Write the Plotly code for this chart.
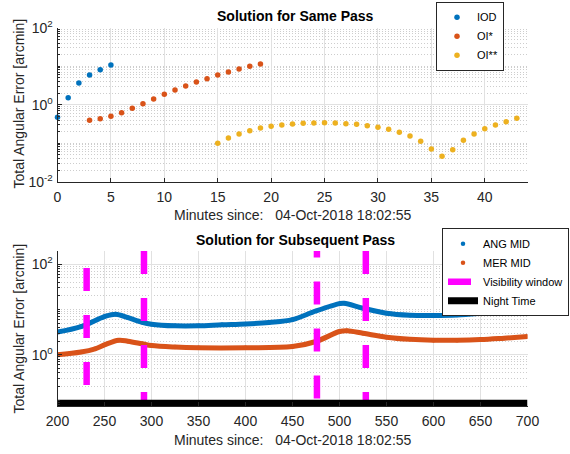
import plotly.graph_objects as go

# ---------------- data ----------------
iod_t = [0, 1, 2, 3, 4, 5]
iod_err = [0.47, 1.52, 3.66, 5.9, 8.1, 10.7]

oi1_t = list(range(3, 20))
oi1_err = [0.394, 0.433, 0.50, 0.62, 0.805, 1.06, 1.41, 1.86, 2.41, 3.06,
           3.89, 4.73, 5.9, 7.06, 8.45, 9.9, 11.4]

oi2_t = list(range(15, 44))
oi2_err = [0.099, 0.136, 0.173, 0.211, 0.248, 0.275, 0.297, 0.315, 0.329, 0.335,
           0.340, 0.335, 0.321, 0.31, 0.285, 0.259, 0.23, 0.192, 0.154, 0.112,
           0.0706, 0.0457, 0.0678, 0.119, 0.173, 0.238, 0.297, 0.361, 0.444]

ang_t = [200, 225, 250, 262, 275, 290, 300, 325, 350, 375, 400, 425, 450,
         475, 500, 505, 525, 550, 575, 600, 625, 650, 675, 700]
ang_err = [3.2, 4.2, 7.0, 7.9, 6.6, 5.25, 4.75, 4.36, 4.36, 4.6, 4.8, 5.2, 6.0,
           9.3, 13.5, 13.8, 10.7, 8.3, 7.5, 7.4, 7.6, 8.3, 9.3, 11.0]

mer_t = [200, 225, 240, 250, 265, 275, 290, 300, 325, 350, 400, 450, 475,
         500, 508, 525, 550, 575, 600, 625, 650, 675, 700]
mer_err = [1.0, 1.15, 1.36, 1.66, 2.1, 2.0, 1.75, 1.6, 1.48, 1.43, 1.43, 1.52, 1.97,
           3.27, 3.4, 3.0, 2.45, 2.2, 2.1, 2.1, 2.17, 2.33, 2.53]

vis_t = [231, 292, 476, 528]
vis_top = [10 ** 2.955, 10 ** 2.293, 10 ** 2.659, 10 ** 2.293]
vis_bottom = 0.01

night_t = [200, 700]
night_level = 10 ** -1.07

top_xticks = list(range(0, 45, 5))
bot_xticks = list(range(200, 701, 50))
ytick_vals = [1e-2, 1, 1e2]
ytick_text = ["10<sup>-2</sup>", "10<sup>0</sup>", "10<sup>2</sup>"]

# ---------------- style ----------------
W, H = 570, 454
BLUE, ORANGE, YELLOW = "#0072BD", "#D95319", "#EDB120"
MAG, BLACK = "#FF00FF", "#000000"
TXT = "#262626"
FONT = "Liberation Sans"
FS = 14
LFS = 11

def minor_vals(lo, hi):
    out = []
    for e in range(lo, hi + 1):
        for m in range(1, 10):
            v = m * 10 ** e
            if m == 1 and e % 2 == 0:
                continue
            out.append(v)
    return out

fig = go.Figure()

# top subplot
for t, v, nm, c in [(iod_t, iod_err, "IOD", BLUE), (oi1_t, oi1_err, "OI*", ORANGE),
                     (oi2_t, oi2_err, "OI**", YELLOW)]:
    fig.add_trace(go.Scatter(x=t, y=v, mode="markers", name=nm, cliponaxis=False,
                             marker=dict(color=c, size=5.5), xaxis="x", yaxis="y",
                             legend="legend"))

# bottom subplot
fig.add_trace(go.Scatter(x=ang_t, y=ang_err, mode="lines", showlegend=False,
                         line=dict(color=BLUE, width=5, shape="spline", smoothing=1),
                         xaxis="x2", yaxis="y2"))
fig.add_trace(go.Scatter(x=mer_t, y=mer_err, mode="lines", showlegend=False,
                         line=dict(color=ORANGE, width=5, shape="spline", smoothing=1),
                         xaxis="x2", yaxis="y2"))
fig.add_trace(go.Scatter(x=ang_t, y=ang_err, mode="markers", name="ANG MID",
                         marker=dict(color=BLUE, size=4.5), xaxis="x2", yaxis="y2", legend="legend2"))
fig.add_trace(go.Scatter(x=mer_t, y=mer_err, mode="markers", name="MER MID",
                         marker=dict(color=ORANGE, size=4.5), xaxis="x2", yaxis="y2", legend="legend2"))
for i, t in enumerate(vis_t):
    fig.add_trace(go.Scatter(x=[t, t], y=[vis_top[i], vis_bottom], mode="lines",
                             name="Visibility window", showlegend=(i == 0),
                             legendgroup="vis",
                             line=dict(color=MAG, width=6.5, dash="23px,24px"),
                             xaxis="x2", yaxis="y2", legend="legend2"))
fig.add_trace(go.Scatter(x=night_t, y=[night_level, night_level], mode="lines",
                         name="Night Time", line=dict(color=BLACK, width=7),
                         xaxis="x2", yaxis="y2", legend="legend2"))

xdom = [57.5 / W, 527.5 / W]
ydom_top = [1 - 181.7 / H, 1 - 27.7 / H]
ydom_bot = [1 - 406 / H, 1 - 251 / H]

axis_common = dict(showline=True, linecolor=TXT, linewidth=1, ticks="inside",
                   tickcolor=TXT, ticklen=4, mirror=False, zeroline=False,
                   tickfont=dict(family=FONT, size=FS, color=TXT),
                   gridcolor="#e1e1e1", gridwidth=1, automargin=False)

def yaxis_cfg(dom, rng, anchor):
    d = dict(axis_common)
    d.update(type="log", domain=dom, range=rng, anchor=anchor,
             tickmode="array", tickvals=ytick_vals, ticktext=ytick_text,
             ticklabelstandoff=1,
             minor=dict(tickmode="array", tickvals=minor_vals(-2, 2), ticks="inside",
                        ticklen=2.5, tickcolor=TXT, showgrid=True,
                        gridcolor="#cdcdcd", griddash="1px,2px", gridwidth=1))
    return d

def xaxis_cfg(rng, ticks, anchor):
    d = dict(axis_common)
    d.update(domain=xdom, range=rng, anchor=anchor, tickmode="array", tickvals=ticks,
             ticklabelstandoff=2)
    return d

leg_common = dict(xref="container", yref="container", xanchor="right", yanchor="top",
                  bgcolor="white", bordercolor=TXT, borderwidth=1,
                  font=dict(family=FONT, size=LFS, color="black"), tracegroupgap=0)

fig.update_layout(
    width=W, height=H,
    margin=dict(l=0, r=0, t=0, b=0, autoexpand=False),
    paper_bgcolor="white", plot_bgcolor="white",
    font=dict(family=FONT, size=FS, color=TXT),
    xaxis=xaxis_cfg([0, 44], top_xticks, "y"),
    yaxis=yaxis_cfg(ydom_top, [-2, 2], "x"),
    xaxis2=xaxis_cfg([200, 700], bot_xticks, "y2"),
    yaxis2=yaxis_cfg(ydom_bot, [-1.13, 2.293], "x2"),
    legend=dict(leg_common, x=504 / W, y=1 - 1.7 / H),
    legend2=dict(leg_common, x=569 / W, y=1 - 228.3 / H),
)

ann = []
cx = (57.5 + 527.5) / 2 / W
ann.append(dict(text="<b>Solution for Same Pass</b>", x=cx + 3 / W, y=1 - 16 / H,
                font=dict(size=14, color="black")))
ann.append(dict(text="<b>Solution for Subsequent Pass</b>", x=cx + 3 / W, y=1 - 240 / H,
                font=dict(size=14, color="black")))
xl = "Minutes since:\u00a0\u00a0\u00a004-Oct-2018 18:02:55"
ann.append(dict(text=xl, x=cx, y=1 - 215 / H))
ann.append(dict(text=xl, x=cx, y=1 - 440 / H))
yl = "Total Angular Error [arcmin]"
ann.append(dict(text=yl, x=18 / W, y=1 - 103.5 / H, textangle=-90))
ann.append(dict(text=yl, x=18 / W, y=1 - 328.5 / H, textangle=-90))
for a in ann:
    a.update(xref="paper", yref="paper", showarrow=False, xanchor="center", yanchor="middle")
    f = a.get("font", {})
    f.setdefault("family", FONT)
    f.setdefault("size", FS)
    f.setdefault("color", TXT)
    a["font"] = f
fig.update_layout(annotations=ann)

fig.write_html("out.html")
